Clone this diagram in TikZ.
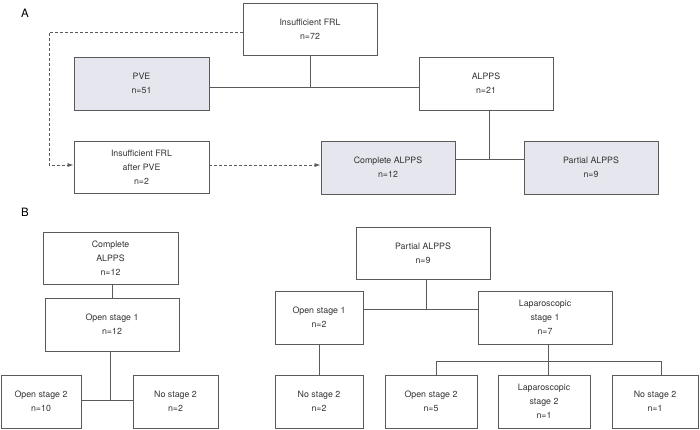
\documentclass[tikz,border=0pt]{standalone}
\usepackage{fontspec}
\setmainfont{TeX Gyre Heros}
\usetikzlibrary{arrows.meta}
\definecolor{boxline}{HTML}{5A5A5A}
\definecolor{boxfill}{HTML}{E6E6EE}
\definecolor{txt}{HTML}{333333}
\tikzset{
  box/.style={draw=boxline, line width=0.9pt, align=center, inner sep=0pt,
    font=\fontsize{8.8}{14}\selectfont, text=txt, minimum height=53pt},
  shaded/.style={box, fill=boxfill},
  link/.style={draw=boxline, line width=0.9pt},
  dlink/.style={draw=boxline, line width=0.8pt, dash pattern=on 3pt off 2pt,
    -{Latex[length=6pt,width=4pt]}},
  panel/.style={font=\fontsize{11.5}{13}\selectfont, text=black}
}
\begin{document}
\begin{tikzpicture}[x=1pt,y=-1pt]
\useasboundingbox (0,0) rectangle (700,429);
% Panel labels
\node[panel] (labA) at (25,13) {A};
\node[panel] (labB) at (25,212) {B};
% Panel A
\node[box, minimum width=134pt, minimum height=52pt] (top) at (310,29) {Insufficient FRL\\n=72};
\node[shaded, minimum width=135pt] (pve) at (141.5,83.5) {PVE\\n=51};
\node[box, minimum width=134pt] (alpps) at (486,83.5) {ALPPS\\n=21};
\node[box, minimum width=135pt, minimum height=52pt] (after) at (141.5,167) {Insufficient FRL\\after PVE\\n=2};
\node[shaded, minimum width=134pt] (compl) at (388,167.5) {Complete ALPPS\\n=12};
\node[shaded, minimum width=134pt] (part) at (591,167.5) {Partial ALPPS\\n=9};
\coordinate (jA) at (310,87);
\coordinate (jB) at (489,159);
\coordinate (dl) at (49,32);
\draw[link] (top.south) -- (jA);
\draw[link] (pve.east |- jA) -- (alpps.west |- jA);
\draw[link] (alpps.south -| jB) -- (jB);
\draw[link] (compl.east |- jB) -- (part.west |- jB);
\draw[dlink] (top.west |- dl) -- (dl) -- (dl |- 0,165) -- (after.west |- 0,165);
\draw[dlink] (after.east |- 0,165) -- (compl.west |- 0,165);
% Panel B left
\node[box, minimum width=135pt, minimum height=52pt] (bcompl) at (110.5,258) {Complete\\ALPPS\\n=12};
\node[box, minimum width=134pt] (bopen1) at (112,324.5) {Open stage 1\\n=12};
\node[box, minimum width=80pt] (bopen2) at (41,401.5) {Open stage 2\\n=10};
\node[box, minimum width=85pt] (bno2) at (175.5,401.5) {No stage 2\\n=2};
\coordinate (jC) at (110,400);
\draw[link] (bcompl.south -| 112,0) -- (bopen1.north -| 112,0);
\draw[link] (bopen1.south -| jC) -- (jC);
\draw[link] (bopen2.east |- jC) -- (bno2.west |- jC);
% Panel B right
\node[box, minimum width=134pt, minimum height=52pt] (ppart) at (423,253) {Partial ALPPS\\n=9};
\node[box, minimum width=88pt] (mopen1) at (319,317.5) {Open stage 1\\n=2};
\node[box, minimum width=88pt] (mno2) at (319,401.5) {No stage 2\\n=2};
\node[box, minimum width=134pt] (lap1) at (545,317.5) {Laparoscopic\\stage 1\\n=7};
\node[box, minimum width=92pt] (ropen2) at (431,401.5) {Open stage 2\\n=5};
\node[box, minimum width=92pt] (lap2) at (544,401.5) {Laparoscopic\\stage 2\\n=1};
\node[box, minimum width=86pt] (rno2) at (655,401.5) {No stage 2\\n=1};
\coordinate (jD) at (426,309);
\coordinate (jE) at (548,361);
\draw[link] (ppart.south -| jD) -- (jD);
\draw[link] (mopen1.east |- jD) -- (lap1.west |- jD);
\draw[link] (mopen1.south) -- (mno2.north);
\draw[link] (lap1.south -| jE) -- (jE);
\draw[link] (ropen2.north -| 436,0) -- (436,361) -- (661,361) -- (rno2.north -| 661,0);
\draw[link] (jE) -- (lap2.north -| jE);
\end{tikzpicture}
\end{document}
